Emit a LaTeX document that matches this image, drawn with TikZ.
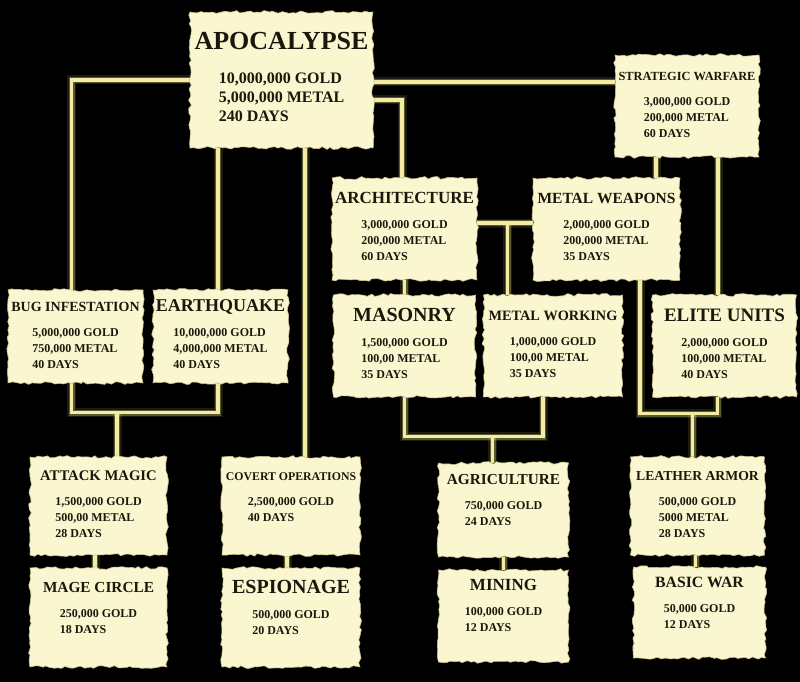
\documentclass[tikz,border=0pt]{standalone}
\usepackage{fontspec}
\setmainfont{Liberation Serif}
\usetikzlibrary{positioning,decorations.pathmorphing}

\definecolor{parchment}{RGB}{250,247,208}
\definecolor{paperedge}{RGB}{200,190,140}
\definecolor{linkcore}{RGB}{242,236,165}
\definecolor{linkglow}{RGB}{236,226,130}
\definecolor{inkbrown}{RGB}{28,22,12}

\pgfdeclarelayer{links}
\pgfsetlayers{links,main}

\newcommand{\techcard}[4][9pt]{%
  \begin{tabular}{@{}c@{}}
    {\fontsize{#2}{#2}\selectfont #3}\\[#1]
    \begin{tabular}[t]{@{}l@{}}#4\end{tabular}
  \end{tabular}}

\begin{document}
\pgfmathsetseed{7}
\begin{tikzpicture}[x=1pt,y=-1pt,on grid,
    card/.style 2 args={fill=parchment, draw=paperedge, line width=.6pt,
      inner sep=0pt, minimum width=#1, minimum height=#2, text=inkbrown,
      font=\bfseries\fontsize{12}{16}\selectfont,
      decorate, decoration={random steps, segment length=4pt, amplitude=1.4pt}},
    link/.style={draw=linkcore, line width=3.5pt,
      preaction={draw=linkglow, line width=9pt, opacity=.12},
      preaction={draw=linkglow, line width=6pt, opacity=.3}}]

       \begin{pgfonlayer}{links}
       \fill[black] (0,0) rectangle (800,682);
       \end{pgfonlayer}

       \node[card={183pt}{136pt}, font=\bfseries\fontsize{16}{19}\selectfont] (apoc) at (281.5,80)
            {\techcard[15pt]{26}{APOCALYPSE}{10,000,000 GOLD\\5,000,000 METAL\\240 DAYS}};
       \node[card={144pt}{102pt}] (strat) [below right=26pt and 405.5pt of apoc]
            {\techcard{12.4}{STRATEGIC WARFARE}{3,000,000 GOLD\\200,000 METAL\\60 DAYS}};
       \node[card={145pt}{102pt}] (arch) [below right=149pt and 123pt of apoc]
            {\techcard{17}{ARCHITECTURE}{3,000,000 GOLD\\200,000 METAL\\60 DAYS}};
       \node[card={147pt}{102pt}] (mweap) [right=202pt of arch]
            {\techcard{15.5}{METAL WEAPONS}{2,000,000 GOLD\\200,000 METAL\\35 DAYS}};
       \node[card={135pt}{93pt}] (bug) [below left=256.5pt and 206pt of apoc]
            {\techcard{14}{BUG INFESTATION}{5,000,000 GOLD\\750,000 METAL\\40 DAYS}};
       \node[card={135pt}{93pt}] (quake) [right=145pt of bug]
            {\techcard{18}{EARTHQUAKE}{10,000,000 GOLD\\4,000,000 METAL\\40 DAYS}};
       \node[card={142pt}{102pt}] (mason) [below=117pt of arch]
            {\techcard{20}{MASONRY}{1,500,000 GOLD\\100,00 METAL\\35 DAYS}};
       \node[card={139pt}{102pt}] (mwork) [right=148.5pt of mason]
            {\techcard{14.3}{METAL WORKING}{1,000,000 GOLD\\100,00 METAL\\35 DAYS}};
       \node[card={144pt}{102pt}] (elite) [right=171.5pt of mwork]
            {\techcard{19}{ELITE UNITS}{2,000,000 GOLD\\100,000 METAL\\40 DAYS}};
       \node[card={137pt}{98pt}] (attack) [below right=169.5pt and 23pt of bug]
            {\techcard{14.7}{ATTACK MAGIC}{1,500,000 GOLD\\500,00 METAL\\28 DAYS}};
       \node[card={138pt}{98pt}] (covert) [right=192.5pt of attack]
            {\techcard{11.8}{COVERT OPERATIONS}{2,500,000 GOLD\\40 DAYS\\[16pt]}};
       \node[card={130pt}{94pt}] (agri) [below right=164pt and 99pt of mason]
            {\techcard{15.3}{AGRICULTURE}{750,000 GOLD\\24 DAYS\\[16pt]}};
       \node[card={134pt}{98pt}] (leather) [below right=160pt and 144.5pt of mwork]
            {\techcard{13.7}{LEATHER ARMOR}{500,000 GOLD\\5000 METAL\\28 DAYS}};
       \node[card={137pt}{99pt}] (mage) [below=111.5pt of attack]
            {\techcard{15.3}{MAGE CIRCLE}{250,000 GOLD\\18 DAYS\\[16pt]}};
       \node[card={138pt}{99pt}] (espion) [below=111.5pt of covert]
            {\techcard{20}{ESPIONAGE}{500,000 GOLD\\20 DAYS\\[16pt]}};
       \node[card={130pt}{92pt}] (mining) [below=106pt of agri]
            {\techcard{17}{MINING}{100,000 GOLD\\12 DAYS\\[16pt]}};
       \node[card={132pt}{91pt}] (basic) [below right=106.5pt and 2pt of leather]
            {\techcard{15.7}{BASIC WAR}{50,000 GOLD\\12 DAYS\\[16pt]}};

       \coordinate (armw) at ([yshift=6pt]arch.east);
       \coordinate (agrij) at ([xshift=-11pt,yshift=26pt]agri.north);
       \coordinate (leaj) at ([xshift=-5pt,yshift=43pt]leather.north);
       \coordinate (attj) at ([xshift=18.5pt,yshift=44pt]attack.north);

       \begin{pgfonlayer}{links}
       \draw[link] (apoc.west) -| ([xshift=-4pt]bug.north);
       \draw[link] ([xshift=-2.5pt]quake.north |- apoc.south) -- ([xshift=-2.5pt]quake.north);
       \draw[link] ([xshift=14pt]covert.north |- apoc.south) -- ([xshift=14pt]covert.north);
       \draw[link] ([yshift=-20pt]apoc.east) -| ([xshift=-2.5pt]arch.north);
       \draw[link] ([yshift=-2pt]apoc.east) -- ([yshift=-2pt]apoc.east -| strat.west);
       \draw[link] ([xshift=-31pt]strat.south) -- ([xshift=-31pt]strat.south |- mweap.north);
       \draw[link] ([xshift=31pt]strat.south) -- ([xshift=31pt]strat.south |- elite.north);
       \draw[link] (armw) -- (armw -| mweap.west);
       \draw[link] ([xshift=-45.5pt]mwork.north |- armw) -- ([xshift=-45.5pt]mwork.north);
       \draw[link] (arch.south) -- (mason.north);
       \draw[link] (mason.south) |- ([xshift=-10pt]mwork.south |- agrij) -- ([xshift=-10pt]mwork.south);
       \draw[link] (agrij) -- ([xshift=-11pt]agri.north);
       \draw[link] ([xshift=33.5pt]mweap.south) |- ([xshift=-7pt]elite.south |- leaj) -- ([xshift=-7pt]elite.south);
       \draw[link] (leaj) -- ([xshift=-5pt]leather.north);
       \draw[link] ([xshift=-4pt]bug.south) |- ([xshift=-2.5pt]quake.south |- attj) -- ([xshift=-2.5pt]quake.south);
       \draw[link] (attj) -- ([xshift=18.5pt]attack.north);
       \draw[link] ([xshift=-3.5pt]attack.south) -- ([xshift=-3.5pt]mage.north);
       \draw[link] ([xshift=-4pt]covert.south) -- ([xshift=-4pt]covert.south |- espion.north);
       \draw[link] (agri.south) -- (mining.north);
       \draw[link] ([xshift=-2pt]leather.south) -- ([xshift=-2pt]leather.south |- basic.north);
       \end{pgfonlayer}
     \end{tikzpicture}
\end{document}
